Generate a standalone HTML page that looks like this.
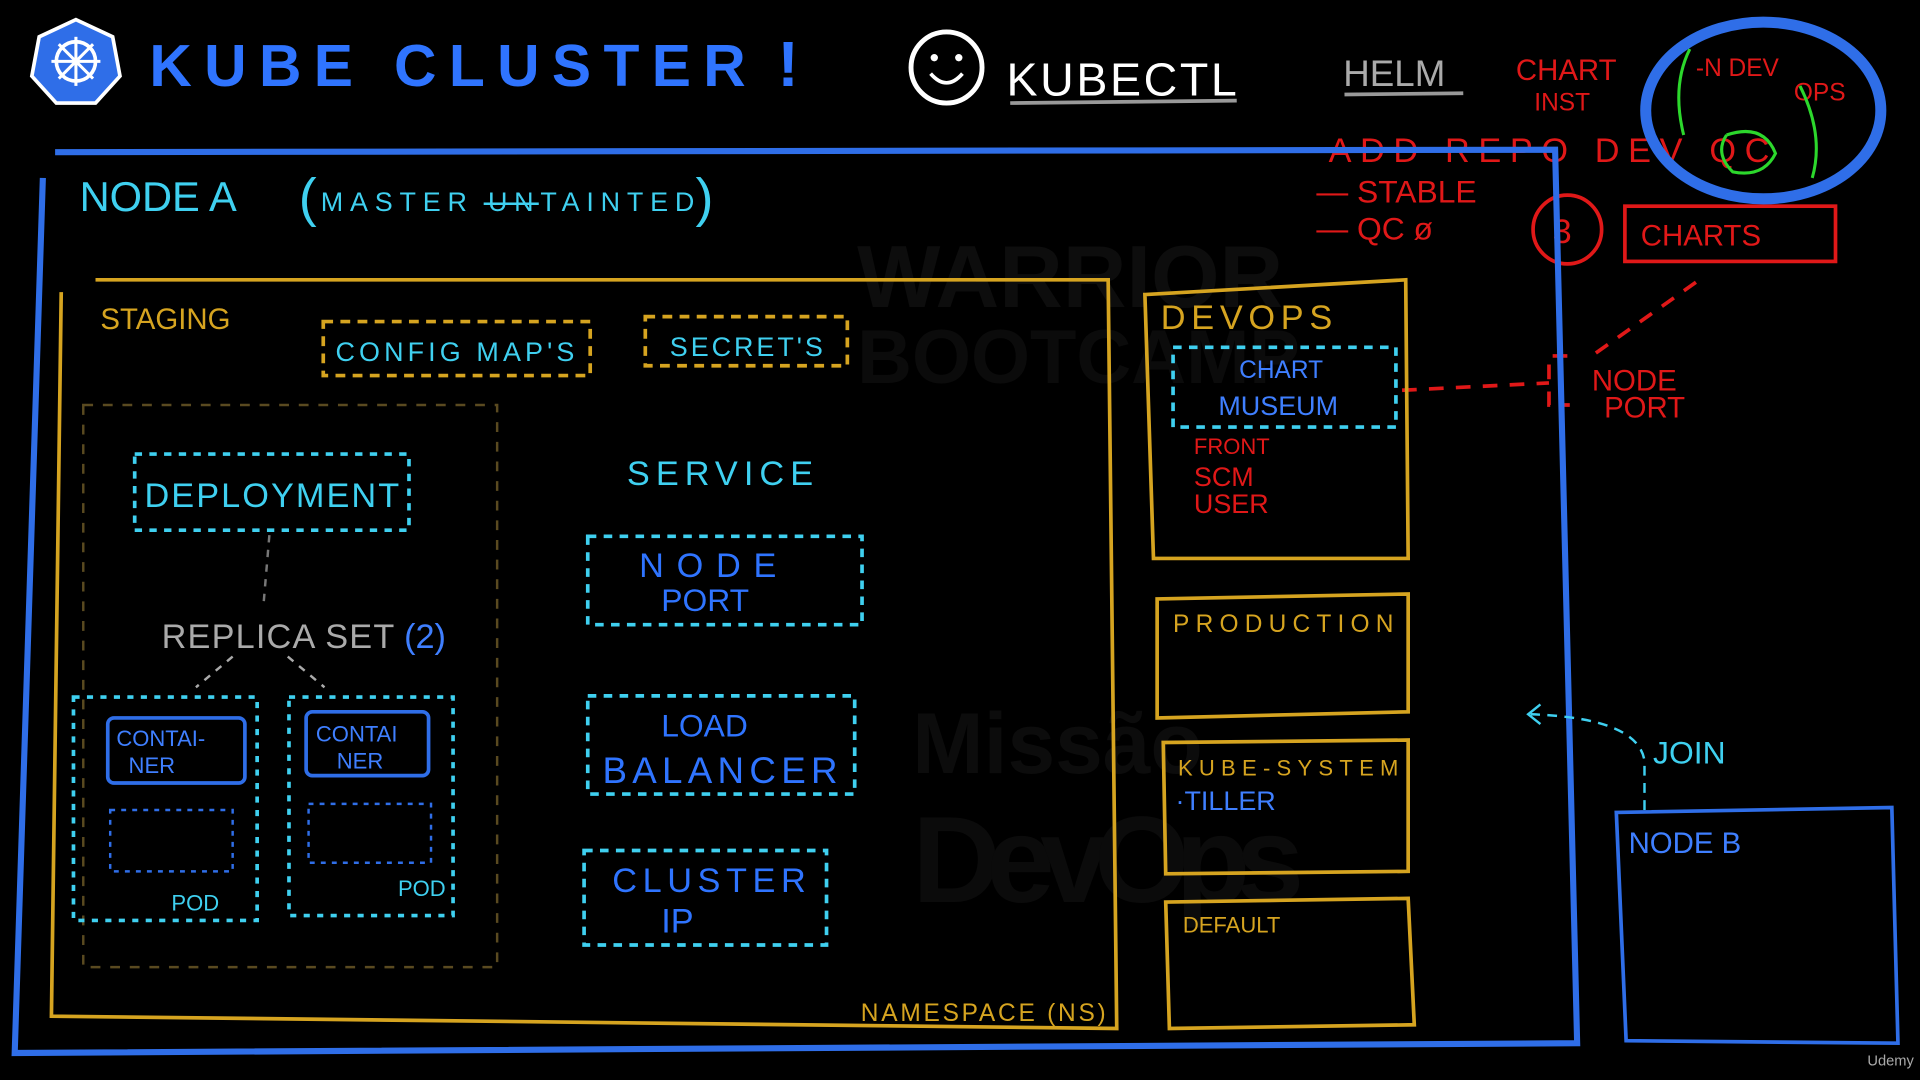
<!DOCTYPE html>
<html><head><meta charset="utf-8"><style>
html,body{margin:0;padding:0;background:#000;overflow:hidden}
svg{display:block}
text{font-family:"Liberation Sans",sans-serif}
</style></head><body>
<svg width="1920" height="1080" viewBox="0 0 1568 880" preserveAspectRatio="none" xmlns="http://www.w3.org/2000/svg">
<rect width="1568" height="880" fill="#000"/>
<!-- watermark -->
<text x="700" y="250" font-size="72" font-weight="bold" fill="#0d0d0d">WARRIOR</text>
<text x="700" y="312" font-size="62" font-weight="bold" fill="#0b0b0b">BOOTCAMP</text>
<text x="745" y="630" font-size="70" font-weight="bold" fill="#0c0c0c">Missão</text>
<text x="745" y="735" font-size="100" font-weight="bold" fill="#0b0b0b" textLength="320">DevOps</text>
<!-- logo -->
<polygon points="62,16 92,30 98,62 78,84 46,84 26,62 32,30" fill="#2f6ee8" stroke="#fff" stroke-width="3"/>
<circle cx="62" cy="50" r="16" fill="none" stroke="#fff" stroke-width="3"/>
<g stroke="#fff" stroke-width="2.5"><line x1="62" y1="30" x2="62" y2="70"/><line x1="42" y1="50" x2="82" y2="50"/><line x1="48" y1="36" x2="76" y2="64"/><line x1="76" y1="36" x2="48" y2="64"/></g>
<text x="122" y="70" font-size="48" font-weight="bold" fill="#2f74ff" letter-spacing="3" textLength="490">KUBE CLUSTER</text>
<text x="635" y="70" font-size="52" font-weight="bold" fill="#2f74ff">!</text>
<circle cx="773" cy="55" r="29" fill="none" stroke="#fff" stroke-width="4"/>
<circle cx="763" cy="47" r="3" fill="#fff"/><circle cx="783" cy="47" r="3" fill="#fff"/>
<path d="M760 60 Q773 75 786 60" fill="none" stroke="#fff" stroke-width="3"/>
<text x="822" y="78" font-size="38" fill="#fff" letter-spacing="2" textLength="190">KUBECTL</text>
<line x1="825" y1="84" x2="1010" y2="82" stroke="#999" stroke-width="3"/>
<text x="1097" y="70" font-size="30" fill="#aaa">HELM</text>
<line x1="1098" y1="77" x2="1195" y2="76" stroke="#999" stroke-width="3"/>
<!-- red notes -->
<g fill="#e01818" font-size="24">
<text x="1238" y="65">CHART</text><text x="1253" y="90" font-size="20">INST</text>
<text x="1085" y="132" font-size="28" textLength="360">ADD REPO DEV QC</text>
<text x="1075" y="165" font-size="26">— STABLE</text>
<text x="1075" y="195" font-size="26">— QC ø</text>
<text x="1268" y="198" font-size="28">3</text>
<text x="1340" y="200" font-size="24">CHARTS</text>
<text x="1300" y="318">NODE</text><text x="1310" y="340">PORT</text>
<text x="975" y="370" font-size="18">FRONT</text>
<text x="975" y="396" font-size="22">SCM</text>
<text x="975" y="418" font-size="22">USER</text>
<text x="1385" y="62" font-size="20">-N DEV</text><text x="1465" y="82" font-size="20">OPS</text>
</g>
<rect x="1327" y="168" width="172" height="45" fill="none" stroke="#e01818" stroke-width="3"/>
<circle cx="1280" cy="187" r="28" fill="none" stroke="#e01818" stroke-width="3"/>
<path d="M1385 230 L1300 290 M1280 290 L1265 290 L1265 330 L1282 330" fill="none" stroke="#e01818" stroke-width="3" stroke-dasharray="12 10"/>
<line x1="1145" y1="318" x2="1265" y2="312" stroke="#e01818" stroke-width="3" stroke-dasharray="12 10"/>
<path d="M1380 40 Q1365 70 1375 110 M1470 70 Q1490 110 1480 145 M1410 110 q30 -10 40 15 q-10 20 -35 15 q-15 -15 -5 -30" fill="none" stroke="#2cd82c" stroke-width="2.5"/>
<ellipse cx="1440" cy="90" rx="96" ry="72" fill="none" stroke="#2f6ee8" stroke-width="9"/>
<!-- Node A -->
<path d="M45 124 L1270 122 L1288 850 L12 858 L35 145" fill="none" stroke="#2f6ee8" stroke-width="5"/>
<text x="65" y="172" font-size="34" fill="#3fd0f0">NODE A</text>
<text x="244" y="176" font-size="44" fill="#3fd0f0">(</text>
<text x="262" y="172" font-size="22" fill="#3fd0f0" textLength="305">MASTER UNTAINTED</text>
<text x="568" y="176" font-size="44" fill="#3fd0f0">)</text>
<line x1="395" y1="166" x2="440" y2="166" stroke="#3fd0f0" stroke-width="2"/>
<!-- namespace staging -->
<path d="M78 228 L905 228 L912 838 L42 828 L50 238" fill="none" stroke="#d6a420" stroke-width="3"/>
<text x="82" y="268" font-size="24" fill="#d6a420">STAGING</text>
<text x="703" y="832" font-size="20" fill="#d6a420" textLength="200">NAMESPACE (NS)</text>
<rect x="264" y="262" width="218" height="44" fill="none" stroke="#d6a420" stroke-width="3" stroke-dasharray="8 6"/>
<text x="274" y="294" font-size="22" fill="#3fd0f0" textLength="195">CONFIG MAP'S</text>
<rect x="527" y="258" width="165" height="40" fill="none" stroke="#d6a420" stroke-width="3" stroke-dasharray="8 6"/>
<text x="547" y="290" font-size="22" fill="#3fd0f0" textLength="125">SECRET'S</text>
<rect x="68" y="330" width="338" height="458" fill="none" stroke="#5a4a20" stroke-width="2" stroke-dasharray="8 8"/>
<rect x="110" y="370" width="224" height="62" fill="none" stroke="#3fd0f0" stroke-width="3" stroke-dasharray="6 6"/>
<text x="118" y="413" font-size="28" fill="#3fd0f0" textLength="208">DEPLOYMENT</text>
<line x1="220" y1="436" x2="215" y2="495" stroke="#777" stroke-width="2" stroke-dasharray="6 6"/>
<text x="132" y="528" font-size="28" fill="#aaa" textLength="190">REPLICA SET</text>
<text x="330" y="528" font-size="28" fill="#3f7fff">(2)</text>
<path d="M190 535 L160 560 M235 535 L265 560" stroke="#aaa" stroke-width="2" stroke-dasharray="6 6"/>
<rect x="60" y="568" width="150" height="182" fill="none" stroke="#3fd0f0" stroke-width="3" stroke-dasharray="5 6"/>
<rect x="236" y="568" width="134" height="178" fill="none" stroke="#3fd0f0" stroke-width="3" stroke-dasharray="5 6"/>
<rect x="88" y="585" width="112" height="53" rx="5" fill="none" stroke="#2f6ee8" stroke-width="3"/>
<text x="95" y="608" font-size="18" fill="#3f7fff">CONTAI-</text><text x="105" y="630" font-size="18" fill="#3f7fff">NER</text>
<rect x="250" y="580" width="100" height="52" rx="5" fill="none" stroke="#2f6ee8" stroke-width="3"/>
<text x="258" y="604" font-size="18" fill="#3f7fff">CONTAI</text><text x="275" y="626" font-size="18" fill="#3f7fff">NER</text>
<rect x="90" y="660" width="100" height="50" fill="none" stroke="#2f6ee8" stroke-width="2" stroke-dasharray="4 5"/>
<rect x="252" y="655" width="100" height="48" fill="none" stroke="#2f6ee8" stroke-width="2" stroke-dasharray="4 5"/>
<text x="140" y="742" font-size="18" fill="#3fd0f0">POD</text>
<text x="325" y="730" font-size="18" fill="#3fd0f0">POD</text>
<text x="512" y="395" font-size="28" fill="#3fd0f0" textLength="152">SERVICE</text>
<rect x="480" y="437" width="224" height="72" fill="none" stroke="#3fd0f0" stroke-width="3" stroke-dasharray="7 6"/>
<text x="522" y="470" font-size="28" fill="#2f74ff" textLength="112">NODE</text><text x="540" y="498" font-size="26" fill="#2f74ff">PORT</text>
<rect x="480" y="567" width="218" height="80" fill="none" stroke="#3fd0f0" stroke-width="3" stroke-dasharray="7 6"/>
<text x="540" y="600" font-size="26" fill="#2f74ff">LOAD</text><text x="492" y="638" font-size="30" fill="#2f74ff" textLength="192">BALANCER</text>
<rect x="477" y="693" width="198" height="77" fill="none" stroke="#3fd0f0" stroke-width="3" stroke-dasharray="7 6"/>
<text x="500" y="727" font-size="28" fill="#2f74ff" textLength="158">CLUSTER</text><text x="540" y="760" font-size="28" fill="#2f74ff">IP</text>
<!-- right namespaces -->
<path d="M935 240 L1148 228 L1150 455 L942 455 Z" fill="none" stroke="#d6a420" stroke-width="3"/>
<text x="948" y="268" font-size="28" fill="#d6a420" textLength="140">DEVOPS</text>
<rect x="958" y="283" width="182" height="65" fill="none" stroke="#3fd0f0" stroke-width="3" stroke-dasharray="7 6"/>
<text x="1012" y="308" font-size="20" fill="#3f7fff">CHART</text><text x="995" y="338" font-size="22" fill="#3f7fff">MUSEUM</text>
<path d="M945 488 L1150 484 L1150 580 L945 585 Z" fill="none" stroke="#d6a420" stroke-width="3"/>
<text x="958" y="515" font-size="20" fill="#d6a420" textLength="180">PRODUCTION</text>
<path d="M950 605 L1150 603 L1150 710 L952 712 Z" fill="none" stroke="#d6a420" stroke-width="3"/>
<text x="962" y="632" font-size="18" fill="#d6a420" textLength="180">KUBE-SYSTEM</text>
<text x="960" y="660" font-size="22" fill="#3f7fff">·TILLER</text>
<path d="M952 735 L1150 732 L1155 835 L955 838 Z" fill="none" stroke="#d6a420" stroke-width="3"/>
<text x="966" y="760" font-size="18" fill="#d6a420">DEFAULT</text>
<!-- Node B -->
<path d="M1320 662 L1545 658 L1550 850 L1328 848 Z" fill="none" stroke="#2f6ee8" stroke-width="3"/>
<text x="1330" y="695" font-size="24" fill="#3f7fff">NODE B</text>
<path d="M1343 660 L1343 620 Q1338 585 1250 582" fill="none" stroke="#3fd0f0" stroke-width="2" stroke-dasharray="8 6"/>
<path d="M1258 574 L1248 582 L1258 590" fill="none" stroke="#3fd0f0" stroke-width="2"/>
<text x="1350" y="622" font-size="26" fill="#3fd0f0">JOIN</text>
<text x="1525" y="868" font-size="12" fill="#aaa">Udemy</text>
</svg>
</body></html>
